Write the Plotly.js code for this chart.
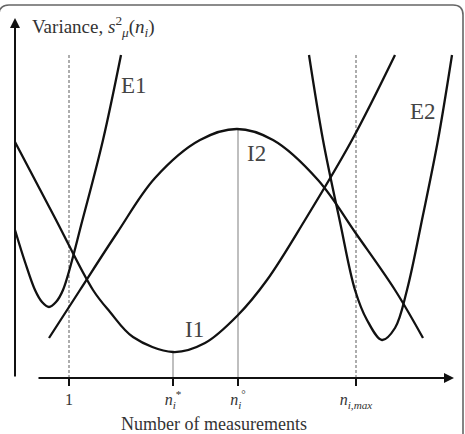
<!DOCTYPE html>
<html><head><meta charset="utf-8">
<script src="https://cdn.plot.ly/plotly-3.0.1.min.js"></script>
<style>html,body{margin:0;padding:0;background:#fff}</style>
</head><body><div id="chart" style="width:465px;height:434px"></div>
<script>
// Schematic variance curves (arbitrary units)
const e1X = [1.5, 2.5, 3.5, 4.2, 4.9, 5.6, 6.3, 8.3, 10.3, 12.1];
const e1Y = [20.4, 17.2, 14.4, 13.2, 12.7, 13.2, 14.4, 21.6, 29.4, 37.9];

const i2X = [4.9, 8.0, 11.7, 15.5, 20.0, 23.7, 27.3, 31.8, 35.7, 39.5, 42.3];
const i2Y = [9.6, 14.4, 20.1, 25.6, 29.4, 30.5, 29.4, 25.4, 19.9, 14.4, 9.6];

const i1X = [1.5, 5.5, 9.3, 11.0, 13.3, 17.3, 20.5, 23.8, 26.7, 30.5, 35.2, 39.5];
const i1Y = [29.2, 21.6, 14.4, 12.2, 9.7, 8.2, 9.1, 11.9, 15.4, 21.4, 29.4, 37.9];

const e2X = [30.9, 32.3, 34.0, 35.5, 36.7, 38.2, 39.5, 40.7, 42.3, 43.8, 45.2];
const e2Y = [37.9, 29.4, 21.2, 14.4, 11.4, 9.4, 10.6, 14.4, 21.9, 29.4, 37.9];

const tickVals = [6.9, 17.3, 23.8, 35.6];
const tickText = ['1',
  '<i>n</i><sub><i>i</i></sub><sup>*</sup>',
  '<i>n</i><sub><i>i</i></sub><sup>°</sup>',
  '<i>n</i><sub><i>i,max</i></sub>'];
const curveNames = ['E1', 'I2', 'I1', 'E2'];
const xTitle = 'Number of measurements';
const yTitle = 'Variance, <i>s</i><sup>2</sup><sub><i>μ</i></sub>(<i>n</i><sub><i>i</i></sub>)';

const axisY = 5.6;      // height of horizontal axis
const guideTop = 38.1;  // top of dashed guides
const i1Min = 8.2, i2Max = 30.5;

const curveLine = {color: '#111', width: 2.3, shape: 'spline', smoothing: 1};
const curve = (x, y, n) => ({x, y, name: n, mode: 'lines', type: 'scatter', line: curveLine, hoverinfo: 'skip'});

const traces = [
  {x: [tickVals[0], tickVals[0]], y: [axisY, guideTop], mode: 'lines', line: {color: '#777', width: 1.2, dash: '3px,2px'}, hoverinfo: 'skip'},
  {x: [tickVals[3], tickVals[3]], y: [axisY, guideTop], mode: 'lines', line: {color: '#777', width: 1.2, dash: '3px,2px'}, hoverinfo: 'skip'},
  {x: [tickVals[1], tickVals[1]], y: [axisY, i1Min], mode: 'lines', line: {color: '#aaa', width: 1.5}, hoverinfo: 'skip'},
  {x: [tickVals[2], tickVals[2]], y: [axisY, i2Max], mode: 'lines', line: {color: '#aaa', width: 1.5}, hoverinfo: 'skip'},
  curve(e1X, e1Y, 'E1'),
  curve(i2X, i2Y, 'I2'),
  curve(i1X, i1Y, 'I1'),
  curve(e2X, e2Y, 'E2')
];

const serif = 'Liberation Serif, Times New Roman, serif';
const lblFont = {family: serif, size: 23, color: '#444'};

const layout = {
  width: 465, height: 434,
  margin: {l: 0, r: 0, t: 0, b: 0},
  paper_bgcolor: '#fff', plot_bgcolor: '#fff',
  showlegend: false,
  xaxis: {
    range: [0, 46.5], showgrid: false, zeroline: false, showline: false,
    anchor: 'free', position: axisY / 43.4,
    ticks: 'outside', ticklen: 7, tickwidth: 2, tickcolor: '#111',
    tickvals: tickVals, ticktext: tickText,
    tickfont: {family: serif, size: 16, color: '#333'}, fixedrange: true
  },
  yaxis: {range: [0, 43.4], visible: false, fixedrange: true},
  shapes: [
    {type: 'path', xref: 'x', yref: 'y',
     path: 'M -0.1,-0.6 V 41.9 Q -0.1,42.9 0.9,42.9 H 45.3 Q 46.3,42.9 46.3,41.9 V -0.6',
     line: {color: '#666', width: 1.6}}
  ],
  annotations: [
    // axes with arrow heads
    {x: 1.5, y: 41.6, ax: 1.5, ay: axisY, xref: 'x', yref: 'y', axref: 'x', ayref: 'y',
     text: '', showarrow: true, arrowhead: 2, arrowsize: 1, arrowwidth: 2, arrowcolor: '#111'},
    {x: 45.4, y: axisY, ax: 3.7, ay: axisY, xref: 'x', yref: 'y', axref: 'x', ayref: 'y',
     text: '', showarrow: true, arrowhead: 2, arrowsize: 1, arrowwidth: 2, arrowcolor: '#111'},
    {x: 3.0, y: 40.8, xref: 'x', yref: 'y', xanchor: 'left', yanchor: 'middle', showarrow: false,
     text: yTitle, font: {family: serif, size: 19, color: '#333'}},
    {x: 21.4, y: 1.0, xref: 'x', yref: 'y', showarrow: false,
     text: xTitle, font: {family: serif, size: 18, color: '#333'}},
    {x: 13.4, y: 34.9, xref: 'x', yref: 'y', showarrow: false, text: curveNames[0], font: lblFont},
    {x: 25.6, y: 28.1, xref: 'x', yref: 'y', showarrow: false, text: curveNames[1], font: lblFont},
    {x: 19.4, y: 10.5, xref: 'x', yref: 'y', showarrow: false, text: curveNames[2], font: lblFont},
    {x: 42.3, y: 32.3, xref: 'x', yref: 'y', showarrow: false, text: curveNames[3], font: lblFont}
  ]
};

Plotly.newPlot('chart', traces, layout, {displayModeBar: false, staticPlot: true});
</script></body></html>
